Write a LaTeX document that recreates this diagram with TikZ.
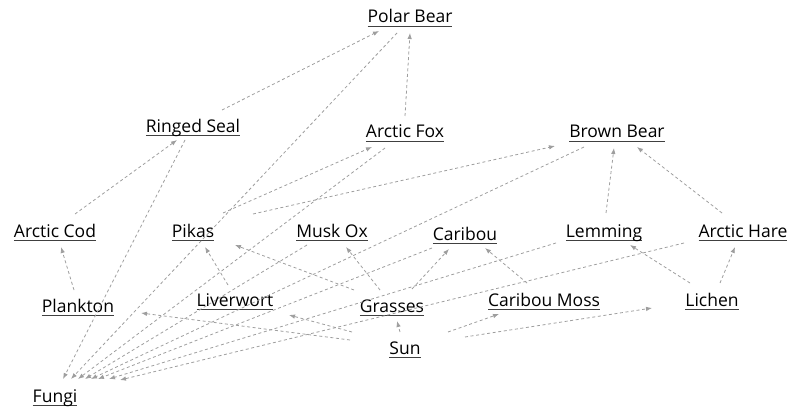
\documentclass[tikz,border=0pt]{standalone}
\usepackage{fontspec}
\setmainfont{Open Sans}
\usetikzlibrary{arrows.meta}
\newcommand{\myul}[1]{\setbox0\hbox{#1}\rlap{\color{black!75}\rule[-3.8pt]{\wd0}{1pt}}\box0}
\tikzset{
  lbl/.style={inner sep=0pt, font=\fontsize{17.5}{20}\selectfont, text height=12pt, text depth=0pt, anchor=center},
  link/.style={draw=black!38, line width=0.8pt, dash pattern=on 3pt off 2.6pt,
    -{Latex[length=6pt,width=4.5pt]}}
}
\newcommand{\edge}[4]{\draw[link] ([shift={(#2)}]#1.center) -- ([shift={(#4)}]#3.center);}
\begin{document}
\begin{tikzpicture}[x=1pt,y=-1pt]
\useasboundingbox (0,0) rectangle (800,417);
\node[lbl] (pb) at (410,17) {\myul{Polar Bear}};
\node[lbl] (rs) at (193,126) {\myul{Ringed Seal}};
\node[lbl] (af) at (405,132) {\myul{Arctic Fox}};
\node[lbl] (bb) at (617,132) {\myul{Brown Bear}};
\node[lbl] (ac) at (55,231) {\myul{Arctic Cod}};
\node[lbl] (pk) at (193,231) {\myul{Pikas}};
\node[lbl] (mo) at (332,231) {\myul{Musk Ox}};
\node[lbl] (cb) at (465,234) {\myul{Caribou}};
\node[lbl] (lm) at (604,231) {\myul{Lemming}};
\node[lbl] (ah) at (743,231) {\myul{Arctic Hare}};
\node[lbl] (pl) at (78,306) {\myul{Plankton}};
\node[lbl] (lv) at (235,300) {\myul{Liverwort}};
\node[lbl] (gr) at (392,306) {\myul{Grasses}};
\node[lbl] (cm) at (544,300) {\myul{Caribou Moss}};
\node[lbl] (lc) at (712,300) {\myul{Lichen}};
\node[lbl] (sn) at (405,348) {\myul{Sun}};
\node[lbl] (fg) at (55,396) {\myul{Fungi}};
% consumers
\edge{rs}{29,-16}{pb}{-31,14}
\edge{af}{0,-16}{pb}{0,16}
\edge{ac}{20,-17}{rs}{-16,14}
\edge{pk}{30,-18}{af}{-33,15}
\edge{pk}{60,-17}{bb}{-62,14}
\edge{lm}{2,-18}{bb}{-3,16}
\edge{ah}{-21,-18}{bb}{20,15}
\edge{pl}{-4,-16}{ac}{6,16}
\edge{lv}{-7,-15}{pk}{12,16}
\edge{gr}{-38,-16}{pk}{42,14}
\edge{gr}{-12,-16}{mo}{14,16}
\edge{gr}{20,-17}{cb}{-16,15}
\edge{cm}{-17,-17}{cb}{20,14}
\edge{lc}{-22,-17}{lm}{26,14}
\edge{lc}{8,-17}{ah}{-8,16}
% sun
\edge{sn}{-5,-16}{gr}{5,15}
\edge{sn}{43,-16}{cm}{-45,14}
\edge{sn}{60,-11}{lc}{-60,8}
\edge{sn}{-53,-16}{lv}{54,15}
\edge{sn}{-55,-8}{pl}{63,7}
% decomposers
\edge{rs}{-8,14}{fg}{8,-17}
\edge{pb}{-13,16}{fg}{16,-17}
\edge{af}{-20,16}{fg}{23,-17}
\edge{mo}{-25,14}{fg}{30,-17}
\edge{bb}{-33,15}{fg}{36,-17}
\edge{cb}{-33,14}{fg}{43,-17}
\edge{lm}{-48,12}{fg}{54,-17}
\edge{ah}{-59,12}{fg}{65,-16}
\end{tikzpicture}
\end{document}
